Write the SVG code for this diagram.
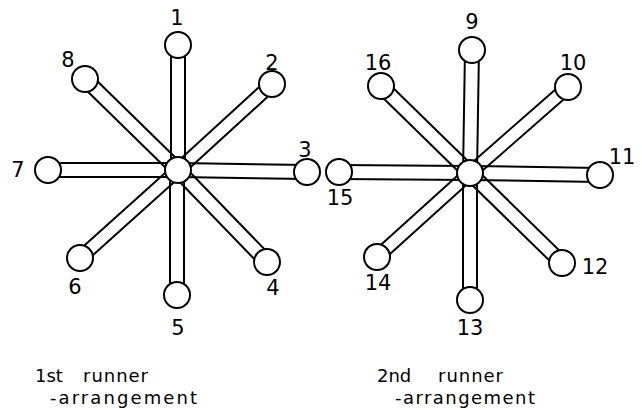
<svg xmlns="http://www.w3.org/2000/svg" width="642" height="412" viewBox="0 0 642 412">
<style>
.bar{stroke:#000;stroke-width:2;fill:none}
.nd{fill:#fff;stroke:#000;stroke-width:2}
.lb{font-family:"DejaVu Sans",sans-serif;font-size:21px;fill:#000;text-anchor:middle}
.cap{font-family:"DejaVu Sans",sans-serif;font-size:18px;fill:#000}
</style>
<rect width="642" height="412" fill="#fff"/>
<g id="connectors">
<path class="bar" d="M171,45 L171,170 M185,45 L185,170"/>
<path class="bar" d="M170,295 L170,170 M184,295 L184,170"/>
<path class="bar" d="M48,163 L178,163 M48,177 L178,177"/>
<path class="bar" d="M307,165 L178,163 M307,179 L178,177"/>
<path class="bar" d="M267.4,79.4 L173.4,165.4 M276.6,88.6 L182.6,174.6"/>
<path class="bar" d="M75.4,253.4 L173.4,165.4 M84.6,262.6 L182.6,174.6"/>
<path class="bar" d="M90,74 L183,165 M80,84 L173,175"/>
<path class="bar" d="M272,257 L183,165 M262,267 L173,175"/>
<path class="bar" d="M465,50 L463,173 M479,50 L477,173"/>
<path class="bar" d="M463,300 L463,173 M477,300 L477,173"/>
<path class="bar" d="M339,165 L470,166 M339,179 L470,180"/>
<path class="bar" d="M600,168 L470,166 M600,182 L470,180"/>
<path class="bar" d="M563.4,82.4 L465.4,168.4 M572.6,91.6 L474.6,177.6"/>
<path class="bar" d="M372.4,252.4 L465.4,168.4 M381.6,261.6 L474.6,177.6"/>
<path class="bar" d="M386,81 L475,168 M376,91 L465,178"/>
<path class="bar" d="M567,258 L475,168 M557,268 L465,178"/>
</g>
<g id="star1">
<circle id="hub1" class="nd" cx="178" cy="170" r="13"/>
<g id="n1"><circle class="nd" cx="178" cy="45" r="13"/><text class="lb" x="177" y="25">1</text></g>
<g id="n2"><circle class="nd" cx="272" cy="84" r="13"/><text class="lb" x="272" y="70">2</text></g>
<g id="n3"><circle class="nd" cx="307" cy="172" r="13"/><text class="lb" x="305" y="157">3</text></g>
<g id="n4"><circle class="nd" cx="267" cy="262" r="13"/><text class="lb" x="273" y="295">4</text></g>
<g id="n5"><circle class="nd" cx="177" cy="295" r="13"/><text class="lb" x="178" y="335">5</text></g>
<g id="n6"><circle class="nd" cx="80" cy="258" r="13"/><text class="lb" x="75" y="294">6</text></g>
<g id="n7"><circle class="nd" cx="48" cy="170" r="13"/><text class="lb" x="18" y="177">7</text></g>
<g id="n8"><circle class="nd" cx="85" cy="79" r="13"/><text class="lb" x="68" y="67">8</text></g>
</g>
<g id="star2">
<circle id="hub2" class="nd" cx="470" cy="173" r="13"/>
<g id="n9"><circle class="nd" cx="472" cy="50" r="13"/><text class="lb" x="472" y="29">9</text></g>
<g id="n10"><circle class="nd" cx="568" cy="87" r="13"/><text class="lb" x="573" y="70">10</text></g>
<g id="n11"><circle class="nd" cx="600" cy="175" r="13"/><text class="lb" x="622" y="164">11</text></g>
<g id="n12"><circle class="nd" cx="562" cy="263" r="13"/><text class="lb" x="595" y="274">12</text></g>
<g id="n13"><circle class="nd" cx="470" cy="300" r="13"/><text class="lb" x="470" y="335">13</text></g>
<g id="n14"><circle class="nd" cx="377" cy="257" r="13"/><text class="lb" x="378" y="290">14</text></g>
<g id="n15"><circle class="nd" cx="339" cy="172" r="13"/><text class="lb" x="340" y="205">15</text></g>
<g id="n16"><circle class="nd" cx="381" cy="86" r="13"/><text class="lb" x="378" y="70">16</text></g>
</g>
<g id="caption1">
<text class="cap" y="382"><tspan x="35">1st</tspan><tspan x="83" textLength="65" lengthAdjust="spacing">runner</tspan></text>
<text class="cap" x="50" y="404" textLength="147" lengthAdjust="spacing">-arrangement</text>
</g>
<g id="caption2">
<text class="cap" y="382"><tspan x="377">2nd</tspan><tspan x="438" textLength="65" lengthAdjust="spacing">runner</tspan></text>
<text class="cap" x="395" y="404" textLength="140" lengthAdjust="spacing">-arrangement</text>
</g>
</svg>
